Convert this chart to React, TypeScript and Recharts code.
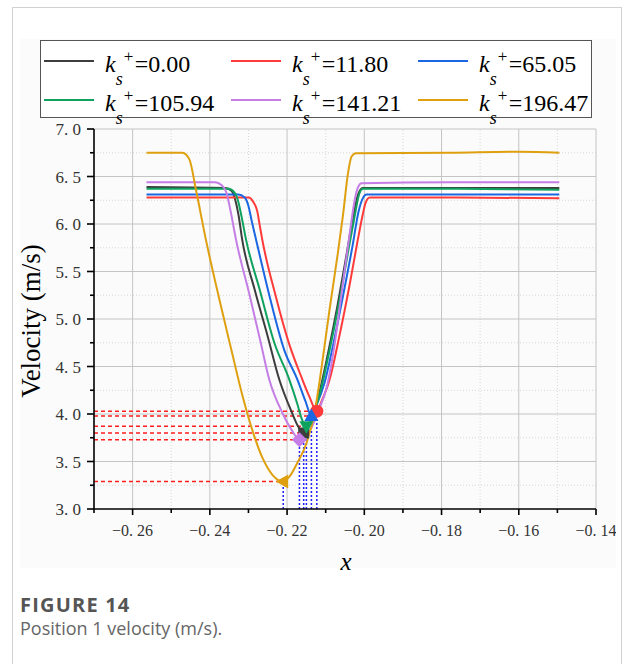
import React from "react";
import { ComposedChart, Line, XAxis, YAxis, ReferenceLine, Legend } from "recharts";

// roughness values, one per curve
const ksLabels = ["0.00", "11.80", "65.05", "105.94", "141.21", "196.47"];
const colors = ["#3d3d3d", "#ff3a3a", "#1b66e2", "#0fa25e", "#c47ee6", "#dfa010"];
const markers = ["square", "circle", "triangleUp", "triangleDown", "diamond", "triangleLeft"];

// velocity profiles along x
const ks000X = [-0.2564, -0.236, -0.2344, -0.2334, -0.2326, -0.2316, -0.2284, -0.2251, -0.222, -0.2188, -0.217, -0.2157, -0.2142, -0.2121, -0.2095, -0.2069, -0.2046, -0.2028, -0.2017, -0.2004, -0.1779, -0.1495];
const ks000V = [6.39, 6.38, 6.35, 6.25, 6.1, 5.83, 5.31, 4.83, 4.36, 4.02, 3.86, 3.8, 3.89, 4.15, 4.62, 5.15, 5.68, 6.1, 6.3, 6.38, 6.38, 6.38];

const ks1180X = [-0.2564, -0.23, -0.2287, -0.2277, -0.2271, -0.2264, -0.223, -0.2194, -0.2163, -0.2142, -0.2123, -0.2111, -0.209, -0.2064, -0.2038, -0.2017, -0.2004, -0.1997, -0.1986, -0.1779, -0.1495];
const ks1180V = [6.28, 6.28, 6.23, 6.13, 5.99, 5.83, 5.25, 4.73, 4.39, 4.18, 4.03, 4.13, 4.36, 4.83, 5.36, 5.83, 6.1, 6.22, 6.28, 6.28, 6.27];

const ks6505X = [-0.2564, -0.2326, -0.231, -0.23, -0.2292, -0.228, -0.2246, -0.2207, -0.2173, -0.2152, -0.2137, -0.2124, -0.2103, -0.2077, -0.2051, -0.203, -0.2015, -0.2004, -0.1994, -0.1779, -0.1495];
const ks6505V = [6.31, 6.31, 6.28, 6.19, 6.04, 5.83, 5.25, 4.67, 4.36, 4.13, 3.98, 4.09, 4.33, 4.8, 5.33, 5.78, 6.13, 6.27, 6.31, 6.31, 6.31];

const ks10594X = [-0.2564, -0.2352, -0.2336, -0.2326, -0.2318, -0.2306, -0.2271, -0.2233, -0.2194, -0.2173, -0.2163, -0.215, -0.2137, -0.2116, -0.209, -0.2064, -0.2041, -0.2025, -0.2015, -0.2004, -0.1779, -0.1495];
const ks10594V = [6.37, 6.37, 6.33, 6.23, 6.08, 5.83, 5.31, 4.75, 4.36, 4.1, 3.96, 3.87, 3.96, 4.2, 4.67, 5.2, 5.73, 6.08, 6.29, 6.37, 6.37, 6.36];

const ks14121X = [-0.2564, -0.2386, -0.237, -0.2357, -0.2347, -0.2332, -0.2297, -0.2271, -0.2246, -0.2212, -0.2188, -0.2168, -0.2152, -0.2134, -0.2116, -0.2098, -0.2077, -0.2056, -0.2038, -0.2025, -0.2017, -0.2007, -0.1779, -0.1495];
const ks14121V = [6.44, 6.44, 6.41, 6.33, 6.15, 5.83, 5.25, 4.8, 4.36, 4.01, 3.83, 3.73, 3.77, 3.88, 4.06, 4.27, 4.73, 5.36, 5.89, 6.25, 6.38, 6.43, 6.44, 6.44];

const ks19647X = [-0.2564, -0.2471, -0.2453, -0.2436, -0.241, -0.2375, -0.2344, -0.2316, -0.229, -0.2264, -0.2238, -0.221, -0.2194, -0.2173, -0.215, -0.2129, -0.2111, -0.209, -0.2069, -0.2055, -0.2042, -0.2033, -0.2022, -0.1779, -0.1597, -0.1495];
const ks19647V = [6.75, 6.75, 6.68, 6.36, 5.83, 5.2, 4.67, 4.2, 3.83, 3.54, 3.36, 3.29, 3.34, 3.49, 3.69, 4.01, 4.48, 5.1, 5.68, 6.1, 6.54, 6.71, 6.745, 6.75, 6.76, 6.75];

// axis ticks
const xMajor = [-0.26, -0.24, -0.22, -0.2, -0.18, -0.16, -0.14];
const xMinor = [-0.27, -0.25, -0.23, -0.21, -0.19, -0.17, -0.15];
const yMajor = [3.0, 3.5, 4.0, 4.5, 5.0, 5.5, 6.0, 6.5, 7.0];
const yMinor = [3.25, 3.75, 4.25, 4.75, 5.25, 5.75, 6.25, 6.75];

const X_MIN = -0.27;
const Y_MIN = 3.0;

const zip = (xs: number[], vs: number[]) => xs.map((x, i) => ({ x, v: vs[i] }));

const series = [
  zip(ks000X, ks000V),
  zip(ks1180X, ks1180V),
  zip(ks6505X, ks6505V),
  zip(ks10594X, ks10594V),
  zip(ks14121X, ks14121V),
  zip(ks19647X, ks19647V),
].map((data, i) => {
  let minIdx = 0;
  data.forEach((d, j) => {
    if (d.v < data[minIdx].v) minIdx = j;
  });
  return { data, minIdx, color: colors[i], marker: markers[i], label: ksLabels[i] };
});

const serif = "'Liberation Serif', 'Times New Roman', serif";

const isIn = (v: number, list: number[]) => list.some((t) => Math.abs(t - v) < 1e-6);

const fmt = (v: number, digits: number) =>
  (v < 0 ? "\u2212" : "") + Math.abs(v).toFixed(digits).replace(".", ". ");

const XTick = (props: any) => {
  const { x, y, payload } = props;
  const major = isIn(payload.value, xMajor);
  return (
    <g>
      <line x1={x} y1={y} x2={x} y2={y + (major ? 6 : 4)} stroke="#000" strokeWidth={1.6} />
      {major && (
        <text x={x} y={y + 27} textAnchor="middle" fontFamily={serif} fontSize={16} fill="#333">
          {fmt(payload.value, 2)}
        </text>
      )}
    </g>
  );
};

const YTick = (props: any) => {
  const { x, y, payload } = props;
  const major = isIn(payload.value, yMajor);
  return (
    <g>
      <line x1={x} y1={y} x2={x - (major ? 7 : 4)} y2={y} stroke="#000" strokeWidth={1.6} />
      {major && (
        <text x={x - 13} y={y + 6} textAnchor="end" fontFamily={serif} fontSize={17} fill="#333">
          {fmt(payload.value, 1)}
        </text>
      )}
    </g>
  );
};

const Marker = ({ cx, cy, shape, color }: any) => {
  switch (shape) {
    case "circle":
      return <circle cx={cx} cy={cy} r={6.5} fill={color} />;
    case "square":
      return <rect x={cx - 5.5} y={cy - 5.5} width={11} height={11} fill={color} />;
    case "triangleUp":
      return <polygon points={`${cx},${cy - 7.5} ${cx + 7},${cy + 5} ${cx - 7},${cy + 5}`} fill={color} />;
    case "triangleDown":
      return <polygon points={`${cx},${cy + 7.5} ${cx + 7},${cy - 5} ${cx - 7},${cy - 5}`} fill={color} />;
    case "diamond":
      return <polygon points={`${cx},${cy - 7.5} ${cx + 7.5},${cy} ${cx},${cy + 7.5} ${cx - 7.5},${cy}`} fill={color} />;
    default:
      return <polygon points={`${cx - 7.5},${cy} ${cx + 5},${cy - 7} ${cx + 5},${cy + 7}`} fill={color} />;
  }
};

const makeDot = (s: (typeof series)[number]) => (props: any) => {
  const { cx, cy, index } = props;
  if (index !== s.minIdx) return <g key={`d-${index}`} />;
  return (
    <g key={`d-${index}`}>
      <Marker cx={cx} cy={cy} shape={s.marker} color={s.color} />
    </g>
  );
};

const KsText = ({ value }: { value: string }) => (
  <span
    style={{
      fontFamily: serif,
      fontSize: 24,
      color: "#000",
      whiteSpace: "nowrap",
      lineHeight: "24px",
      position: "relative",
      top: 3,
    }}
  >
    <i>k</i>
    <span style={{ display: "inline-block", position: "relative", width: 19, height: 10 }}>
      <span style={{ position: "absolute", left: 0, top: 5, fontStyle: "italic", fontSize: 18 }}>s</span>
      <span style={{ position: "absolute", left: 8, top: -17, fontSize: 17 }}>+</span>
    </span>
    ={value}
  </span>
);

// legend box with two rows of three entries, in series order
const renderLegend = () => (
  <div
    style={{
      boxSizing: "border-box",
      width: 552,
      height: 78,
      border: "1px solid #555",
      background: "#fff",
      display: "grid",
      gridTemplateColumns: "187px 187px 176px",
      gridTemplateRows: "40px 38px",
    }}
  >
    {series.map((s, i) => (
      <div key={i} style={{ display: "flex", alignItems: "center" }}>
        <span style={{ display: "inline-block", width: 50, height: 2, background: s.color, marginLeft: 3, marginRight: 11 }} />
        <KsText value={s.label} />
      </div>
    ))}
  </div>
);

export default function App() {
  return (
    <div style={{ position: "absolute", left: 0, top: 0, width: 625, height: 664, background: "#fff", overflow: "hidden" }}>
      <div style={{ position: "absolute", left: 12, top: 7, width: 608, height: 700, border: "1px solid #d2d2d2" }} />
      <div style={{ position: "absolute", left: 20, top: 39, width: 596, height: 529, background: "#fbfbfb" }} />

      <div style={{ position: "absolute", left: 20, top: 39 }}>
        <ComposedChart width={596} height={529} margin={{ top: 90, right: 20, bottom: 19, left: 14 }}>
          <XAxis
            dataKey="x"
            type="number"
            domain={[-0.27, -0.14]}
            ticks={[...xMinor, ...xMajor].sort((a, b) => a - b)}
            interval={0}
            allowDataOverflow
            height={40}
            tickSize={0}
            tickMargin={0}
            tickLine={false}
            axisLine={{ stroke: "#000", strokeWidth: 1.6 }}
            tick={<XTick />}
          />
          <YAxis
            type="number"
            domain={[3, 7]}
            ticks={[...yMinor, ...yMajor].sort((a, b) => a - b)}
            interval={0}
            allowDataOverflow
            width={60}
            tickSize={0}
            tickMargin={0}
            tickLine={false}
            axisLine={{ stroke: "#000", strokeWidth: 1.6 }}
            tick={<YTick />}
          />
          {xMinor.slice(1).map((v) => (
            <ReferenceLine key={`xm-${v}`} x={v} stroke="#d8d8d8" strokeDasharray="1 2" />
          ))}
          {yMinor.map((v) => (
            <ReferenceLine key={`ym-${v}`} y={v} stroke="#d8d8d8" strokeDasharray="1 2" />
          ))}
          {xMajor.map((v) => (
            <ReferenceLine key={`xM-${v}`} x={v} stroke="#c4c4c4" />
          ))}
          {yMajor.slice(1).map((v) => (
            <ReferenceLine key={`yM-${v}`} y={v} stroke="#c4c4c4" />
          ))}
          {series.map((s, i) => {
            const m = s.data[s.minIdx];
            return (
              <ReferenceLine
                key={`h-${i}`}
                segment={[{ x: X_MIN, y: m.v }, { x: m.x, y: m.v }]}
                stroke="#ff1e1e"
                strokeWidth={1.5}
                strokeDasharray="4 3"
              />
            );
          })}
          {series.map((s, i) => {
            const m = s.data[s.minIdx];
            return (
              <ReferenceLine
                key={`v-${i}`}
                segment={[{ x: m.x, y: Y_MIN }, { x: m.x, y: m.v }]}
                stroke="#1e1eff"
                strokeWidth={1.5}
                strokeDasharray="2 2"
              />
            );
          })}
          {series.map((s, i) => (
            <Line
              key={`s-${i}`}
              data={s.data}
              dataKey="v"
              name={s.label}
              type="monotone"
              stroke={s.color}
              strokeWidth={2}
              dot={makeDot(s)}
              activeDot={false}
              isAnimationActive={false}
            />
          ))}
          <Legend
            layout="horizontal"
            verticalAlign="middle"
            align="center"
            content={renderLegend}
            wrapperStyle={{ left: 20, top: 1, width: 552 }}
          />
        </ComposedChart>
      </div>

      <div
        style={{
          position: "absolute",
          left: 31,
          top: 321,
          transform: "translate(-50%, -50%) rotate(-90deg)",
          fontFamily: serif,
          fontSize: 27,
          whiteSpace: "nowrap",
          color: "#000",
        }}
      >
        Velocity (m/s)
      </div>
      <div
        style={{
          position: "absolute",
          left: 346,
          top: 562,
          transform: "translate(-50%, -50%)",
          fontFamily: serif,
          fontStyle: "italic",
          fontSize: 25,
          color: "#000",
        }}
      >
        x
      </div>

      <div
        style={{
          position: "absolute",
          left: 20,
          top: 591,
          fontFamily: "'Open Sans', sans-serif",
          fontWeight: 700,
          fontSize: 20,
          letterSpacing: 1.2,
          color: "#555",
        }}
      >
        FIGURE 14
      </div>
      <div style={{ position: "absolute", left: 20, top: 616, fontFamily: "'Open Sans', sans-serif", fontSize: 18, color: "#666" }}>
        Position 1 velocity (m/s).
      </div>
    </div>
  );
}
